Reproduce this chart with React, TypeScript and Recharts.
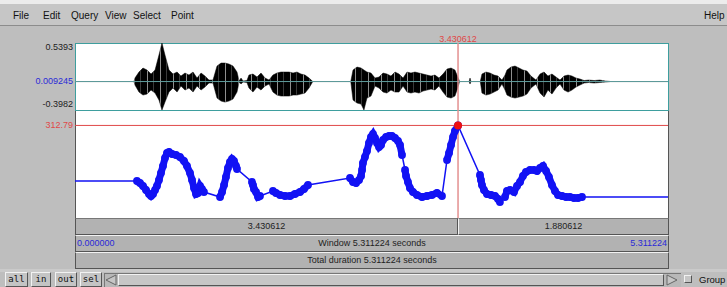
import React from 'react';
import {
  ComposedChart,
  Line,
  Area,
  Scatter,
  XAxis,
  YAxis,
  ReferenceLine,
  ReferenceDot,
} from 'recharts';

// window / cursor
const TOTAL = 5.311224;
const CURSOR = 3.430612;

// waveform axis
const WAVE_MAX = 0.5393;
const WAVE_MID = 0.009245;
const WAVE_MIN = -0.3982;

// pitch axis
const F0_MIN = 118.032;
const F0_MAX = 345.249;
const F0_CURSOR = 312.79;

const menuItems = ['File', 'Edit', 'Query', 'View', 'Select', 'Point'];
const menuX = [13, 43, 71, 105, 133, 171];
const buttons = ['all', 'in', 'out', 'sel'];

// [time s, upper, lower] envelope of the sound
const waveEnvelope: [number, number, number][] = [
  [0, 0, 0], [0.528, 0, 0], [0.537, 0.049, -0.049], [0.573, 0.133, -0.147],
  [0.609, 0.189, -0.189], [0.645, 0.161, -0.175], [0.681, 0.105, -0.119],
  [0.717, 0.161, -0.161], [0.752, 0.371, -0.259], [0.779, 0.539, -0.398],
  [0.806, 0.371, -0.287], [0.842, 0.161, -0.147], [0.878, 0.105, -0.091],
  [0.914, 0.133, -0.147], [0.949, 0.077, -0.063], [0.985, 0.119, -0.119],
  [1.021, 0.091, -0.091], [1.057, 0.133, -0.147], [1.093, 0.049, -0.063],
  [1.129, 0.119, -0.119], [1.164, 0.077, -0.077], [1.2, 0.021, -0.021],
  [1.236, 0.021, -0.021], [1.272, 0.217, -0.231], [1.308, 0.259, -0.273],
  [1.343, 0.259, -0.287], [1.379, 0.245, -0.273], [1.415, 0.217, -0.245],
  [1.451, 0.133, -0.147], [1.47, 0.007, -0.007], [1.487, 0.049, -0.035],
  [1.505, 0.007, -0.007], [1.54, 0.014, -0.014], [1.558, 0.091, -0.091],
  [1.594, 0.105, -0.147], [1.63, 0.063, -0.077], [1.666, 0.119, -0.119],
  [1.702, 0.049, -0.063], [1.738, 0.021, -0.035], [1.773, 0.091, -0.147],
  [1.809, 0.119, -0.189], [1.845, 0.133, -0.203], [1.881, 0.133, -0.203],
  [1.917, 0.133, -0.203], [1.953, 0.119, -0.189], [1.988, 0.133, -0.189],
  [2.024, 0.105, -0.175], [2.06, 0.091, -0.161], [2.096, 0.049, -0.091],
  [2.13, 0, 0], [2.47, 0, 0], [2.49, 0.161, -0.259], [2.526, 0.203, -0.301],
  [2.562, 0.189, -0.315], [2.588, 0.161, -0.398], [2.615, 0.133, -0.231],
  [2.651, 0.119, -0.203], [2.687, 0.049, -0.063], [2.723, 0.063, -0.091],
  [2.759, 0.119, -0.147], [2.794, 0.105, -0.161], [2.83, 0.077, -0.119],
  [2.866, 0.133, -0.147], [2.902, 0.105, -0.147], [2.938, 0.049, -0.063],
  [2.974, 0.133, -0.147], [3.009, 0.119, -0.161], [3.045, 0.133, -0.147],
  [3.081, 0.119, -0.161], [3.117, 0.105, -0.133], [3.153, 0.091, -0.119],
  [3.189, 0.077, -0.105], [3.224, 0.091, -0.119], [3.26, 0.049, -0.063],
  [3.296, 0.105, -0.147], [3.332, 0.175, -0.217], [3.368, 0.189, -0.231],
  [3.403, 0.161, -0.203], [3.425, 0.077, -0.105], [3.445, 0, 0],
  [3.53, 0, 0], [3.538, 0.049, -0.035], [3.546, 0, 0], [3.63, 0, 0],
  [3.645, 0.105, -0.161], [3.681, 0.133, -0.189], [3.717, 0.119, -0.175],
  [3.753, 0.091, -0.147], [3.789, 0.077, -0.119], [3.824, 0.021, -0.035],
  [3.852, 0.091, -0.119], [3.869, 0.161, -0.189], [3.905, 0.203, -0.217],
  [3.941, 0.217, -0.231], [3.977, 0.189, -0.217], [4.012, 0.161, -0.203],
  [4.048, 0.147, -0.175], [4.084, 0.077, -0.091], [4.129, 0.021, -0.035],
  [4.165, 0.105, -0.161], [4.201, 0.133, -0.217], [4.236, 0.077, -0.119],
  [4.272, 0.105, -0.175], [4.308, 0.063, -0.091], [4.344, 0.021, -0.035],
  [4.38, 0.077, -0.119], [4.416, 0.091, -0.147], [4.451, 0.077, -0.119],
  [4.487, 0.049, -0.077], [4.523, 0.035, -0.049], [4.56, 0.014, -0.021],
  [4.6, 0.021, -0.014], [4.65, 0.014, -0.021], [4.7, 0.021, -0.014],
  [4.75, 0.007, -0.007], [4.8, 0, 0], [5.311224, 0, 0],
];

// voiced stretches of the pitch track, [time s, Hz]
const segA: [number, number][] = [
  [0.555, 195.87], [0.582, 191.67], [0.609, 185.35], [0.636, 176.94], [0.663, 168.52],
  [0.681, 164.32], [0.699, 168.52], [0.717, 176.94], [0.734, 185.35], [0.752, 197.98],
  [0.77, 212.71], [0.788, 227.43], [0.806, 244.26], [0.824, 254.78], [0.842, 256.89],
  [0.869, 252.68], [0.905, 250.57], [0.94, 246.37], [0.976, 237.95], [1.003, 227.43],
  [1.03, 212.71], [1.048, 197.98], [1.066, 181.15], [1.084, 168.52], [1.102, 170.63],
  [1.12, 185.35], [1.137, 179.04], [1.155, 172.73],
];
const segB: [number, number][] = [
  [1.299, 162.21], [1.317, 172.73], [1.335, 187.46], [1.352, 204.29], [1.37, 223.22],
  [1.388, 235.85], [1.406, 242.16], [1.424, 237.95], [1.442, 227.43], [1.451, 221.12],
];
const segC: [number, number][] = [
  [1.585, 193.77], [1.594, 187.46], [1.603, 179.04], [1.621, 172.73], [1.639, 162.21],
  [1.657, 164.32],
];
const segD: [number, number][] = [
  [1.773, 174.84], [1.8, 170.63], [1.836, 166.42], [1.881, 164.32], [1.926, 164.32],
  [1.97, 168.52], [2.015, 172.73], [2.051, 179.04], [2.087, 187.46],
];
const segE: [number, number][] = [
  [2.463, 202.19], [2.49, 193.77], [2.517, 191.67], [2.544, 197.98], [2.562, 206.4],
  [2.571, 219.02], [2.579, 233.74], [2.597, 246.37], [2.615, 258.99], [2.633, 275.82],
  [2.651, 288.45], [2.669, 294.76], [2.687, 286.34], [2.705, 275.82], [2.723, 267.41],
  [2.741, 271.61], [2.759, 282.13], [2.786, 288.45], [2.812, 290.55], [2.839, 290.55],
  [2.866, 286.34], [2.893, 280.03], [2.911, 271.61], [2.929, 250.57],
];
const segF: [number, number][] = [
  [2.956, 219.02], [2.965, 206.4], [2.982, 193.77], [3.0, 181.15], [3.027, 172.73],
  [3.063, 166.42], [3.108, 162.21], [3.153, 164.32], [3.197, 166.42], [3.242, 170.63],
  [3.287, 164.32],
];
const segG: [number, number][] = [
  [3.332, 240.06], [3.35, 254.78], [3.368, 271.61], [3.386, 288.45], [3.403, 301.07],
  [3.4306, 312.79],
];
const segH: [number, number][] = [
  [3.627, 208.5], [3.636, 197.98], [3.645, 187.46], [3.663, 176.94], [3.69, 168.52],
  [3.726, 166.42], [3.762, 164.32], [3.789, 158.01], [3.806, 151.69],
];
const segI: [number, number][] = [
  [3.851, 162.21], [3.869, 174.84], [3.896, 176.94], [3.932, 172.73], [3.959, 185.35],
  [3.986, 193.77], [4.012, 206.4], [4.039, 214.81], [4.075, 219.02], [4.111, 219.02],
  [4.138, 216.91], [4.165, 223.22], [4.192, 227.43], [4.219, 216.91], [4.245, 204.29],
  [4.272, 187.46], [4.299, 174.84], [4.326, 166.42], [4.362, 164.32], [4.398, 162.21],
  [4.433, 162.21], [4.469, 160.11], [4.505, 160.11], [4.541, 162.21],
];

const voiced = [segA, segB, segC, segD, segE, segF, segG, segH, segI];

const BLUE = '#1212f4';
const TEXT_BLUE = '#2a2ad8';
const RED = '#e04848';
const CURSOR_PINK = '#e39090';
const TEAL = '#3e9e9e';
const FONT = '"Liberation Sans", Arial, sans-serif';

const X0 = 75;
const X1 = 668;
const cursorX = X0 + (CURSOR / TOTAL) * (X1 - X0);

const waveData = waveEnvelope.map(([t, hi, lo]) => ({ t, range: [lo, hi] }));
const toRows = (s: [number, number][]) => s.map(([t, hz]) => ({ t, hz }));
const pitchAll = [
  { t: 0, hz: segA[0][1] },
  ...voiced.flatMap(toRows),
  { t: TOTAL, hz: segI[segI.length - 1][1] },
];

const WaveTick = (props: any) => {
  const { x, y, payload } = props;
  const v = payload.value;
  const dy = v === WAVE_MAX ? 4 : v === WAVE_MIN ? -6 : 0;
  return (
    <text x={x} y={y + dy} textAnchor="end" dominantBaseline="central" fontSize={9}
      fontFamily={FONT} fill={v === WAVE_MID ? TEXT_BLUE : '#222'}>
      {String(v)}
    </text>
  );
};

const PitchLeftTick = (props: any) => {
  const { x, y, payload } = props;
  return (
    <text x={x} y={y} textAnchor="end" dominantBaseline="central" fontSize={9}
      fontFamily={FONT} fill={RED}>
      {String(payload.value)}
    </text>
  );
};

const PitchRightTick = (props: any) => {
  const { x, y, payload } = props;
  const v = payload.value;
  const dy = v === F0_MAX ? 5 : -1;
  return (
    <text x={x} y={y + dy} textAnchor="start" dominantBaseline="central" fontSize={9}
      fontFamily={FONT} fill={TEXT_BLUE}>
      {`${v.toFixed(3)} Hz`}
    </text>
  );
};

const Bead = (props: any) => <circle cx={props.cx} cy={props.cy} r={3.9} fill={BLUE} />;

const abs = (l: number, t: number, w: number, h: number, extra: React.CSSProperties = {}) =>
  ({ position: 'absolute', left: l, top: t, width: w, height: h, boxSizing: 'border-box', ...extra } as React.CSSProperties);

const bevel = {
  borderTop: '1px solid #f2f2f2',
  borderLeft: '1px solid #f2f2f2',
  borderBottom: '1px solid #555',
  borderRight: '1px solid #555',
};

const barText = (extra: React.CSSProperties = {}) => ({
  fontSize: 9,
  color: '#222',
  lineHeight: '15px',
  whiteSpace: 'nowrap',
  ...extra,
} as React.CSSProperties);

export default function App() {
  return (
    <div style={abs(0, 0, 727, 287, { background: '#bebebe', overflow: 'hidden', fontFamily: FONT })}>
      {/* menu bar */}
      <div style={abs(0, 0, 727, 4, { background: '#ececec' })} />
      <div style={abs(0, 4, 727, 22, { background: '#c6c6c6', borderBottom: '1px solid #8c8c8c' })} />
      {menuItems.map((m, i) => (
        <div key={m} style={abs(menuX[i], 10, 40, 14, { fontSize: 10, color: '#111', whiteSpace: 'nowrap' })}>{m}</div>
      ))}
      <div style={abs(704, 10, 22, 14, { fontSize: 10, color: '#111', whiteSpace: 'nowrap' })}>Help</div>

      {/* panels */}
      <div style={abs(X0, 43, X1 - X0 + 1, 68, { background: '#fff', border: `1.5px solid ${TEAL}` })} />
      <div style={abs(X0, 111, X1 - X0 + 1, 107, { background: '#fff', borderLeft: '1px solid #555', borderRight: '1px solid #555' })} />

      {/* waveform */}
      <div style={abs(0, 33, 727, 87)}>
        <ComposedChart width={727} height={87} data={waveData} margin={{ top: 10, right: 59, bottom: 10, left: 0 }}>
          <defs>
            <pattern id="wavestripe" width="13" height="4" patternUnits="userSpaceOnUse">
              <rect width="13" height="4" fill="#000" />
              <rect x="4" width="0.8" height="4" fill="#fff" fillOpacity={0.7} />
              <rect x="10" width="0.5" height="4" fill="#fff" fillOpacity={0.45} />
            </pattern>
          </defs>
          <XAxis dataKey="t" type="number" domain={[0, TOTAL]} hide />
          <YAxis type="number" domain={[WAVE_MIN, WAVE_MAX]} ticks={[WAVE_MIN, WAVE_MID, WAVE_MAX]}
            width={75} tickSize={0} tickMargin={2} axisLine={false} tickLine={false}
            tick={<WaveTick />} interval={0} allowDataOverflow />
          <ReferenceLine y={0} stroke="#5e9c9c" strokeWidth={1} />
          <Area dataKey="range" type="linear" stroke="#000" strokeWidth={0.5} fill="url(#wavestripe)"
            fillOpacity={1} isAnimationActive={false} dot={false} activeDot={false} />
          <ReferenceLine x={CURSOR} stroke={CURSOR_PINK} strokeWidth={1.5}
            label={{ value: CURSOR.toFixed(6), position: 'top', offset: 1, fill: RED, fontSize: 9, fontFamily: FONT }} />
        </ComposedChart>
      </div>

      {/* pitch */}
      <div style={abs(0, 100, 727, 128)}>
        <ComposedChart width={727} height={128} data={pitchAll} margin={{ top: 10, right: 0, bottom: 10, left: 0 }}>
          <XAxis dataKey="t" type="number" domain={[0, TOTAL]} hide />
          <YAxis yAxisId="l" dataKey="hz" type="number" domain={[F0_MIN, F0_MAX]} ticks={[F0_CURSOR]}
            width={75} tickSize={0} tickMargin={2} axisLine={false} tickLine={false}
            tick={<PitchLeftTick />} interval={0} />
          <YAxis yAxisId="r" orientation="right" type="number" domain={[F0_MIN, F0_MAX]} ticks={[F0_MIN, F0_MAX]}
            width={59} tickSize={0} tickMargin={2} axisLine={false} tickLine={false}
            tick={<PitchRightTick />} interval={0} />
          <ReferenceLine yAxisId="l" y={F0_CURSOR} stroke={RED} strokeWidth={1} />
          <ReferenceLine yAxisId="l" x={CURSOR} stroke={CURSOR_PINK} strokeWidth={1.5} />
          <Line yAxisId="l" dataKey="hz" type="linear" stroke={BLUE} strokeWidth={1.5}
            dot={false} activeDot={false} isAnimationActive={false} />
          {voiced.map((s, i) => (
            <Scatter key={i} yAxisId="l" data={toRows(s)} fill={BLUE} shape={<Bead />}
              line={{ stroke: BLUE, strokeWidth: 7 }} isAnimationActive={false} />
          ))}
          <ReferenceDot yAxisId="l" x={CURSOR} y={F0_CURSOR} r={4} fill="#f01010" stroke="none" />
        </ComposedChart>
      </div>

      {/* time bars */}
      <div style={abs(X0, 218, cursorX - X0, 17, { background: '#b2b2b2', ...bevel, borderLeft: '1px solid #555', borderTop: '1px solid #777' })}>
        <div style={barText({ textAlign: 'center' })}>{CURSOR.toFixed(6)}</div>
      </div>
      <div style={abs(cursorX, 218, X1 - cursorX + 1, 17, { background: '#b2b2b2', ...bevel, borderTop: '1px solid #777' })}>
        <div style={barText({ textAlign: 'center' })}>{(TOTAL - CURSOR).toFixed(6)}</div>
      </div>
      <div style={abs(X0, 235, X1 - X0 + 1, 17, { background: '#b2b2b2', ...bevel, borderLeft: '1px solid #555' })}>
        <div style={barText({ position: 'absolute', left: 1, color: TEXT_BLUE })}>{(0).toFixed(6)}</div>
        <div style={barText({ textAlign: 'center' })}>{`Window ${TOTAL.toFixed(6)} seconds`}</div>
        <div style={barText({ position: 'absolute', right: 1, top: 0, color: TEXT_BLUE })}>{TOTAL.toFixed(6)}</div>
      </div>
      <div style={abs(X0, 252, X1 - X0 + 1, 17, { background: '#b2b2b2', ...bevel, borderLeft: '1px solid #555' })}>
        <div style={barText({ textAlign: 'center' })}>{`Total duration ${TOTAL.toFixed(6)} seconds`}</div>
      </div>
      <div style={abs(0, 269, 727, 3, { background: '#cacaca' })} />

      {/* bottom controls */}
      {buttons.map((b, i) => (
        <div key={b} style={abs([5, 31, 55, 80][i], 272, [23, 20, 22, 22][i], 15, {
          ...bevel, background: '#c4c4c4', fontFamily: '"DejaVu Sans Mono", monospace', fontSize: 9,
          textAlign: 'center', lineHeight: '12px', color: '#111',
        })}>{b}</div>
      ))}
      <div style={abs(104, 273, 577, 14, { background: '#b8b8b8', borderTop: '1px solid #777', borderLeft: '1px solid #777' })} />
      <div style={abs(118, 274, 546, 12, { ...bevel, background: '#c6c6c6' })} />
      <svg style={abs(105, 274, 12, 12)} width={12} height={12}>
        <polygon points="11,1 1,6 11,11" fill="#c6c6c6" stroke="#666" strokeWidth={1} />
      </svg>
      <svg style={abs(666, 274, 12, 12)} width={12} height={12}>
        <polygon points="1,1 11,6 1,11" fill="#c6c6c6" stroke="#666" strokeWidth={1} />
      </svg>
      <div style={abs(684, 275, 8, 8, { ...bevel, background: '#c6c6c6' })} />
      <div style={abs(699, 274, 28, 12, { fontSize: 9.5, color: '#111', whiteSpace: 'nowrap' })}>Group</div>
    </div>
  );
}
